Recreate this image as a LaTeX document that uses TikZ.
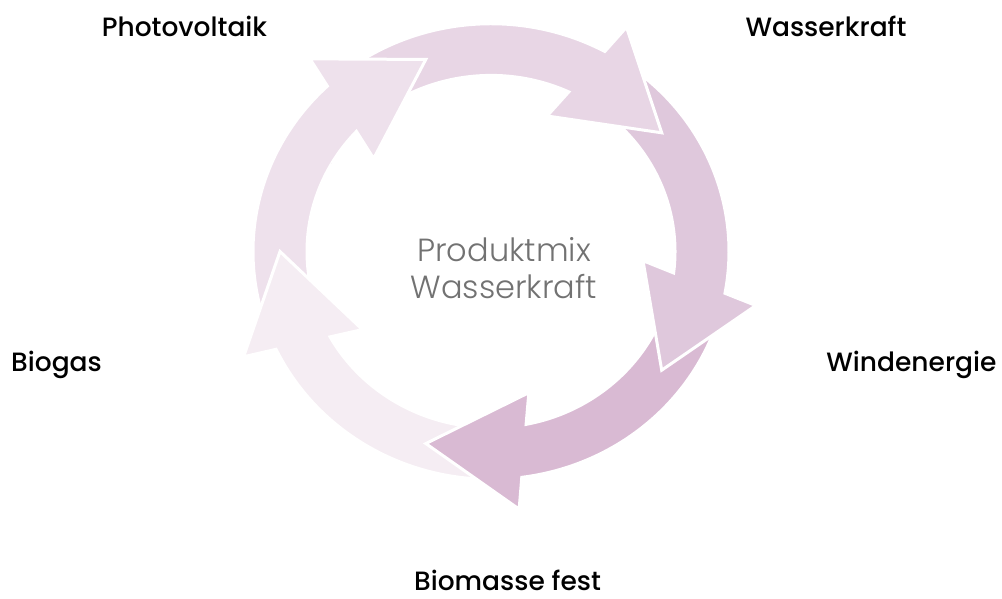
\documentclass[tikz,border=0pt]{standalone}
\usepackage{fontspec}
\setmainfont{Poppins}
\IfFontExistsTF{Poppins Medium}
  {\newfontfamily\labelfont{Poppins Medium}}
  {\newfontfamily\labelfont{Poppins}[FakeBold=1.2]}
\IfFontExistsTF{Poppins Light}
  {\newfontfamily\mixfont{Poppins Light}}
  {\newfontfamily\mixfont{Poppins}}

\definecolor{segA}{HTML}{E8D6E5}
\definecolor{segB}{HTML}{DFC8DC}
\definecolor{segC}{HTML}{D9BAD3}
\definecolor{segD}{HTML}{F5EDF3}
\definecolor{segE}{HTML}{EEE1EC}
\definecolor{midgray}{HTML}{727272}

% one ring arrow, tip at 36 degrees
\newcommand{\segpath}{(127:238) arc[start angle=127, end angle=61.43, radius=238]
  -- (135.5,234.4) -- (36:211) -- (56.1,141.6)
  -- (65:184) arc[start angle=65, end angle=127, radius=184] -- cycle}

\begin{document}
\begin{tikzpicture}[x=1pt, y=1pt,
    seg/.style = {draw=white, line width=3pt, line join=miter},
    lbl/.style = {font=\labelfont\fontsize{26.5}{30}\selectfont, anchor=base, inner sep=0pt}]
  \useasboundingbox (0,0) rectangle (1002,598);

  \begin{scope}[shift={(491,346.5)}, yscale=0.957]
    \path[seg, fill=segE, rotate=72] \segpath;
    \path[seg, fill=segD, rotate=144] \segpath;
    \path[seg, fill=segC, rotate=-144] \segpath;
    \path[seg, fill=segB, rotate=-72] \segpath;
    \path[seg, fill=segA] \segpath;
    % head of the last one lies on the tail of the first
    \begin{scope}
      \clip (0,0) -- (100:320) arc[start angle=100, end angle=150, radius=320] -- cycle;
      \path[seg, fill=segE, rotate=72] \segpath;
    \end{scope}
  \end{scope}

  \node[font=\mixfont\fontsize{32}{37}\selectfont, text=midgray, align=center] (mix) at (504,330) {Produktmix\\Wasserkraft};

  \node[lbl] (pv) at (184.5,561.5) {Photovoltaik};
  \node[lbl] (wk) at (826,561.5) {Wasserkraft};
  \node[lbl] (bg) at (56.5,226) {Biogas};
  \node[lbl] (we) at (911.5,226) {Windenergie};
  \node[lbl] (bm) at (507.5,7.5) {Biomasse fest};
\end{tikzpicture}
\end{document}
